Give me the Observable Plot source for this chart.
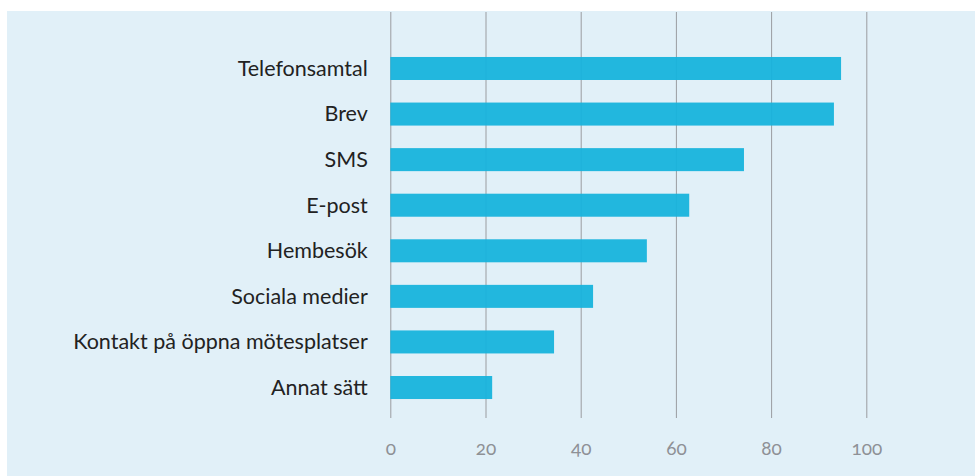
<!DOCTYPE html>
<html>
<head>
<meta charset="utf-8">
<script src="https://cdn.jsdelivr.net/npm/d3@7"></script>
<script src="https://cdn.jsdelivr.net/npm/@observablehq/plot@0.6"></script>
<style>
  html, body { margin: 0; padding: 0; background: #ffffff; }
  #page { width: 975px; height: 476px; position: relative; overflow: hidden; }
  #panel { position: absolute; left: 7px; top: 11px; width: 968px; height: 465px; background: #e1f0f8; }
  #panel svg { display: block; }
  #panel svg text { font-variant-numeric: oldstyle-nums; }
</style>
</head>
<body>
<div id="page"><div id="panel"></div></div>
<script>
const categories = [
  "Telefonsamtal",
  "Brev",
  "SMS",
  "E-post",
  "Hembesök",
  "Sociala medier",
  "Kontakt på öppna mötesplatser",
  "Annat sätt"
];
const values = [94.7, 93.2, 74.3, 62.8, 53.9, 42.6, 34.4, 21.4];
const xTicks = [0, 20, 40, 60, 80, 100];

const data = categories.map((c, i) => ({category: c, value: values[i]}));

const chart = Plot.plot({
  width: 968,
  height: 465,
  marginLeft: 383.3,
  marginRight: 108.7,
  marginTop: 34.7,
  marginBottom: 65.7,
  style: {background: "transparent", fontFamily: "Lato, sans-serif"},
  x: {domain: [0, 100], round: false},
  y: {domain: categories, paddingInner: 0.495, paddingOuter: 0.2475, round: false},
  marks: [
    Plot.ruleX(xTicks, {stroke: "#9a9ca0", strokeWidth: 1, insetTop: -33.7, insetBottom: -7.7}),
    Plot.barX(data, {x: "value", y: "category", fill: "#17b3dc", fillOpacity: 0.95}),
    Plot.axisX(xTicks, {tickSize: 0, tickPadding: 31, fontSize: 19, fill: "#8e9196", label: null}),
    Plot.axisY({tickSize: 0, tickPadding: 23, fontSize: 21.5, fill: "#222222", label: null})
  ]
});
document.getElementById("panel").appendChild(chart);
</script>
</body>
</html>
